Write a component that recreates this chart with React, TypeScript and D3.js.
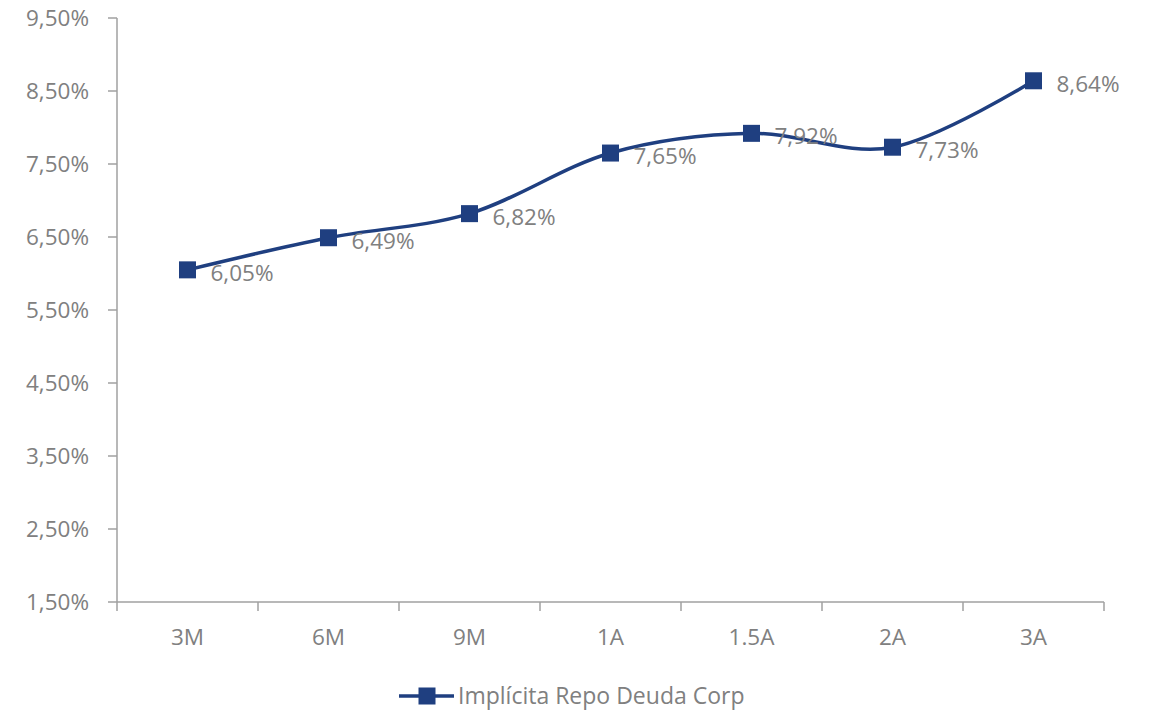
import React from "react";
import * as d3 from "d3";

const categories = ["3M", "6M", "9M", "1A", "1.5A", "2A", "3A"];
const values = [6.05, 6.49, 6.82, 7.65, 7.92, 7.73, 8.64];
const yTicks = [1.5, 2.5, 3.5, 4.5, 5.5, 6.5, 7.5, 8.5, 9.5];
const seriesName = "Implícita Repo Deuda Corp";

const W = 1150;
const H = 712;
const left = 117;
const right = 1104;
const top = 18;
const bottom = 602;
const lineColor = "#1f3f80";
const axisColor = "#a0a0a0";
const textColor = "#808080";
const font = "'Open Sans', sans-serif";
const fs = 22.5;

const fmt = (v: number) => v.toFixed(2).replace(".", ",") + "%";

export default function App() {
  const x = d3.scaleBand<string>().domain(categories).range([left, right]);
  const y = d3.scaleLinear().domain([1.5, 9.5]).range([bottom, top]);
  const cx = (c: string) => (x(c) ?? 0) + x.bandwidth() / 2;

  const pts: [number, number][] = categories.map((c, i) => [cx(c), y(values[i])]);
  const path = d3.line().curve(d3.curveCardinal.tension(0))(pts) ?? "";

  const boundaries = [...categories.map((c) => x(c) ?? 0), right];
  const mk = 17;

  return (
    <svg width={W} height={H} style={{ position: "absolute", left: 0, top: 0 }}>
      <rect width={W} height={H} fill="#fff" />
      {/* y axis */}
      <line x1={left} x2={left} y1={top} y2={bottom} stroke={axisColor} strokeWidth={1.5} />
      {yTicks.map((t) => (
        <g key={t}>
          <line x1={left - 9} x2={left} y1={y(t)} y2={y(t)} stroke={axisColor} strokeWidth={1.5} />
          <text
            x={89}
            y={y(t)}
            dy="0.35em"
            textAnchor="end"
            fontFamily={font}
            fontSize={fs}
            fill={textColor}
          >
            {fmt(t)}
          </text>
        </g>
      ))}
      {/* x axis */}
      <line x1={left} x2={right} y1={bottom} y2={bottom} stroke={axisColor} strokeWidth={1.5} />
      {boundaries.map((b, i) => (
        <line key={i} x1={b} x2={b} y1={bottom} y2={bottom + 9} stroke={axisColor} strokeWidth={1.5} />
      ))}
      {categories.map((c) => (
        <text
          key={c}
          x={cx(c)}
          y={637}
          dy="0.35em"
          textAnchor="middle"
          fontFamily={font}
          fontSize={fs}
          fill={textColor}
        >
          {c}
        </text>
      ))}
      {/* series */}
      <path d={path} fill="none" stroke={lineColor} strokeWidth={3.5} />
      {pts.map(([px, py], i) => (
        <rect key={i} x={px - mk / 2} y={py - mk / 2} width={mk} height={mk} fill={lineColor} />
      ))}
      {pts.map(([px, py], i) => (
        <text
          key={"l" + i}
          x={px + 23}
          y={py + 3}
          dy="0.35em"
          fontFamily={font}
          fontSize={fs}
          fill={textColor}
        >
          {fmt(values[i])}
        </text>
      ))}
      {/* legend */}
      <line x1={399} x2={454} y1={696} y2={696} stroke={lineColor} strokeWidth={3.5} />
      <rect x={427 - mk / 2} y={696 - mk / 2} width={mk} height={mk} fill={lineColor} />
      <text x={458} y={696} dy="0.35em" fontFamily={font} fontSize={fs + 0.5} fill={textColor}>
        {seriesName}
      </text>
    </svg>
  );
}
